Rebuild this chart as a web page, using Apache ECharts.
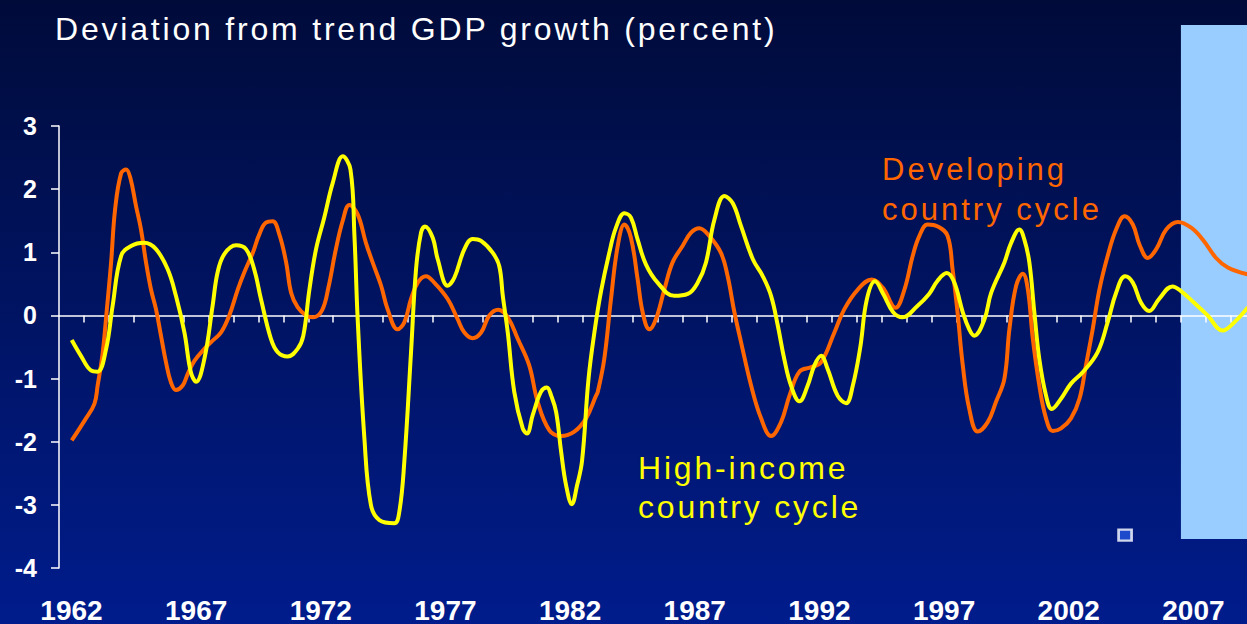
<!DOCTYPE html>
<html>
<head>
<meta charset="utf-8">
<script src="https://cdn.jsdelivr.net/npm/echarts@6/dist/echarts.min.js"></script>
<style>
  html, body { margin: 0; padding: 0; }
  #main { width: 1247px; height: 624px; background: linear-gradient(#000b3a, #001c8c); }
  /* the slide text is letter-spaced */
  #main text[fill="#fefefe"] { letter-spacing: 2.8px; }
  #main text[fill="#ff6600"] { letter-spacing: 3px; }
  #main text[fill="#ffff01"] { letter-spacing: 2.8px; }
</style>
</head>
<body>
<div id="main"></div>
<script>
// high-income country cycle (decimal year, deviation in percent)
var hiYears = [1962.51,1962.88,1963.28,1963.55,1963.89,1964.15,1964.49,1964.89,1965.42,1965.89,1966.36,1966.69,1967.03,1967.29,1967.50,1967.83,1968.16,1968.36,1968.63,1969.10,1969.50,1969.83,1970.10,1970.50,1970.77,1971.17,1971.57,1971.80,1972.04,1972.31,1972.64,1972.98,1973.38,1973.69,1973.85,1973.98,1974.25,1974.51,1974.85,1975.45,1975.65,1975.85,1976.12,1976.32,1976.52,1976.68,1976.99,1977.19,1977.59,1977.86,1978.26,1978.59,1978.93,1979.40,1979.66,1979.80,1980.00,1980.26,1980.60,1980.77,1981.00,1981.33,1981.57,1981.74,1981.94,1982.14,1982.34,1982.57,1982.78,1982.98,1983.24,1983.50,1983.74,1984.07,1984.34,1984.68,1984.94,1985.21,1985.54,1986.01,1986.68,1987.22,1987.62,1987.95,1988.29,1988.69,1989.02,1989.36,1989.83,1990.23,1990.56,1990.83,1991.09,1991.36,1991.70,1992.03,1992.30,1992.57,1992.83,1993.23,1993.57,1993.84,1994.14,1994.40,1994.73,1995.06,1995.46,1995.83,1996.43,1996.90,1997.24,1997.61,1997.91,1998.25,1998.51,1998.71,1999.12,1999.39,1999.92,2000.19,2000.52,2000.72,2000.92,2001.12,2001.32,2001.59,2001.82,2002.19,2002.59,2003.06,2003.66,2004.06,2004.40,2004.76,2005.07,2005.40,2005.73,2006.12,2006.66,2006.99,2007.53,2008.07,2008.67,2009.14,2009.69];
var hiValues = [-0.39,-0.64,-0.87,-0.89,-0.53,0.15,0.94,1.10,1.15,1.05,0.73,0.31,-0.27,-0.90,-1.05,-0.69,0.15,0.68,0.97,1.11,1.05,0.73,0.26,-0.37,-0.58,-0.65,-0.53,-0.32,0.40,1.05,1.55,2.10,2.52,2.31,1.26,-0.06,-1.95,-3.00,-3.24,-3.29,-3.11,-2.32,-0.58,0.73,1.31,1.41,1.23,0.89,0.47,0.60,1.05,1.21,1.18,0.99,0.78,0.31,-0.27,-1.21,-1.79,-1.87,-1.58,-1.21,-1.14,-1.27,-1.53,-2.16,-2.69,-2.99,-2.69,-2.30,-1.00,-0.20,0.38,0.99,1.39,1.62,1.55,1.20,0.81,0.52,0.31,0.34,0.52,0.84,1.52,1.89,1.78,1.41,0.89,0.62,0.31,-0.16,-0.69,-1.11,-1.36,-1.11,-0.79,-0.64,-0.85,-1.27,-1.39,-1.11,-0.50,0.25,0.54,0.34,0.05,-0.03,0.15,0.34,0.55,0.67,0.52,0.05,-0.22,-0.32,-0.06,0.36,0.84,1.15,1.36,1.20,0.84,0.05,-0.69,-1.27,-1.48,-1.32,-1.08,-0.90,-0.58,-0.11,0.36,0.62,0.52,0.20,0.07,0.26,0.46,0.39,0.20,0.00,-0.24,-0.11,0.13];

// developing country cycle
var devYears = [1962.51,1963.05,1963.42,1963.55,1963.75,1963.92,1964.09,1964.25,1964.49,1964.69,1964.86,1965.09,1965.29,1965.49,1965.69,1965.89,1966.09,1966.29,1966.49,1966.69,1966.96,1967.16,1967.43,1967.83,1968.16,1968.50,1968.83,1969.17,1969.43,1969.77,1970.03,1970.30,1970.57,1970.84,1971.11,1971.31,1971.57,1971.91,1972.18,1972.55,1972.81,1973.08,1973.38,1973.65,1973.98,1974.31,1974.58,1974.92,1975.18,1975.58,1975.85,1976.12,1976.39,1976.72,1977.05,1977.59,1977.99,1978.26,1978.59,1978.93,1979.26,1979.62,1980.00,1980.40,1980.86,1981.20,1981.67,1982.14,1982.67,1983.14,1983.54,1983.61,1983.87,1984.14,1984.41,1984.68,1984.94,1985.21,1985.41,1985.68,1985.94,1986.28,1986.61,1987.01,1987.35,1987.68,1988.08,1988.55,1988.82,1989.09,1989.36,1989.76,1990.16,1990.56,1990.96,1991.30,1991.70,1992.17,1992.57,1993.10,1993.50,1994.04,1994.60,1995.04,1995.55,1995.91,1996.24,1996.51,1996.84,1997.24,1997.64,1997.84,1998.04,1998.25,1998.51,1998.85,1999.25,1999.58,1999.92,2000.12,2000.39,2000.66,2000.86,2001.06,2001.32,2001.59,2001.86,2002.19,2002.59,2002.93,2003.19,2003.46,2003.73,2004.06,2004.40,2004.74,2005.07,2005.34,2005.67,2006.01,2006.41,2006.88,2007.41,2007.88,2008.41,2008.88,2009.69];
var devValues = [-1.98,-1.65,-1.40,-1.11,-0.60,0.10,0.84,1.68,2.25,2.31,2.18,1.73,1.36,0.84,0.41,0.10,-0.32,-0.74,-1.06,-1.18,-1.11,-0.93,-0.72,-0.53,-0.40,-0.27,0.00,0.41,0.68,0.99,1.28,1.47,1.49,1.28,0.84,0.36,0.13,0.00,-0.03,0.08,0.45,1.00,1.50,1.75,1.60,1.15,0.84,0.47,0.10,-0.22,-0.11,0.26,0.52,0.62,0.52,0.26,-0.06,-0.27,-0.36,-0.27,0.00,0.09,-0.03,-0.37,-0.79,-1.37,-1.82,-1.91,-1.84,-1.63,-1.27,-1.21,-0.69,0.26,1.10,1.44,1.23,0.57,0.05,-0.22,-0.06,0.41,0.84,1.10,1.31,1.38,1.26,0.99,0.62,0.05,-0.43,-1.11,-1.63,-1.91,-1.69,-1.27,-0.89,-0.82,-0.74,-0.27,0.10,0.41,0.57,0.44,0.12,0.41,0.94,1.26,1.44,1.41,1.26,0.73,0.05,-0.79,-1.48,-1.84,-1.69,-1.37,-1.00,-0.22,0.47,0.66,0.41,-0.37,-1.11,-1.63,-1.83,-1.79,-1.63,-1.32,-0.79,-0.22,0.41,0.94,1.36,1.57,1.44,1.12,0.91,1.05,1.36,1.48,1.39,1.20,0.91,0.76,0.65];

var tickYears = [];
for (var y = 1963; y <= 2009; y++) tickYears.push(y);
var labelYears = [1962, 1967, 1972, 1977, 1982, 1987, 1992, 1997, 2002, 2007];
var forecastStart = 2007;
var markerPoint = [[2004.76, -3.48]];

function pairs(xs, ys) {
    return xs.map(function(x, i) { return [x, ys[i]]; });
}

var chart = echarts.init(document.getElementById('main'), null, { renderer: 'svg' });
var font = '"Liberation Sans", Arial, sans-serif';

var option = {
    backgroundColor: 'transparent',
    animation: false,
    title: {
        text: 'Deviation from trend GDP growth (percent)',
        left: 55,
        top: 13,
        padding: 0,
        textStyle: { color: '#fefefe', fontSize: 32, fontWeight: 'normal', fontFamily: font }
    },
    grid: { left: 59, right: 0, top: 126, bottom: 54, containLabel: false },
    xAxis: [{
        type: 'value',
        min: 1962,
        max: 2009.65,
        axisLine: { onZero: true, lineStyle: { color: '#fff', width: 1.5 } },
        axisTick: { show: true, customValues: tickYears, length: 7, lineStyle: { color: '#fff', width: 1.5 } },
        axisLabel: { show: false },
        splitLine: { show: false }
    }, {
        type: 'value',
        position: 'bottom',
        min: 1962,
        max: 2009.65,
        axisLine: { show: false, onZero: false },
        axisTick: { show: false },
        splitLine: { show: false },
        axisLabel: {
            customValues: labelYears.map(function(v) { return v + 0.5; }),
            formatter: function(v) { return String(Math.floor(v)); },
            color: '#fff', fontSize: 28, fontWeight: 'bold', fontFamily: font, margin: 28
        }
    }],
    yAxis: {
        type: 'value',
        min: -4,
        max: 3,
        interval: 1,
        axisLine: { show: true, lineStyle: { color: '#fff', width: 1.5 } },
        axisTick: { show: true, length: 8, lineStyle: { color: '#fff', width: 1.5 } },
        axisLabel: { color: '#fff', fontSize: 25, fontWeight: 'bold', fontFamily: font, margin: 22 },
        splitLine: { show: false }
    },
    series: [{
        name: 'Developing country cycle',
        type: 'line',
        data: pairs(devYears, devValues),
        smooth: 0.4,
        showSymbol: false,
        lineStyle: { color: '#ff6600', width: 4 }
    }, {
        name: 'High-income country cycle',
        type: 'line',
        data: pairs(hiYears, hiValues),
        smooth: 0.4,
        showSymbol: false,
        lineStyle: { color: '#ffff00', width: 4 }
    }, {
        type: 'scatter',
        data: markerPoint,
        symbol: 'rect',
        symbolSize: [13, 11],
        itemStyle: { color: '#2456dc', borderColor: '#fff', borderWidth: 2.5 },
        silent: true
    }]
};

chart.setOption(option);

// forecast shading and the two line captions
var topLeft = chart.convertToPixel({ xAxisIndex: 0, yAxisIndex: 0 }, [forecastStart, -3.54]);
chart.setOption({
    graphic: [{
        type: 'rect',
        z: -10,
        shape: { x: topLeft[0], y: 25, width: 1247 - topLeft[0], height: topLeft[1] - 25 },
        style: { fill: '#99ccff' }
    }, {
        type: 'text',
        left: 882,
        top: 149,
        style: { text: 'Developing\ncountry cycle', fill: '#ff6600', fontSize: 31, lineHeight: 40, fontFamily: font }
    }, {
        type: 'text',
        left: 638,
        top: 448,
        style: { text: 'High-income\ncountry cycle', fill: '#ffff01', fontSize: 32, lineHeight: 39, fontFamily: font }
    }]
});

window.onresize = function() {
    chart.resize();
};
</script>
</body>
</html>
